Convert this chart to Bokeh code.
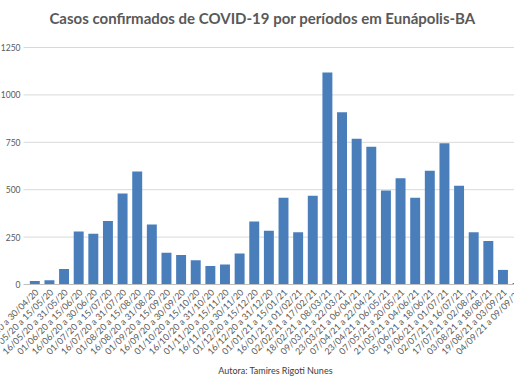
from math import pi
from bokeh.plotting import figure
from bokeh.models import Range1d
from bokeh.core.properties import value
from bokeh.embed import file_html
from bokeh.resources import INLINE

titulo = "Casos confirmados de COVID-19 por períodos em Eunápolis-BA"
autora = "Autora: Tamires Rigoti Nunes"
periodos = [
    "16/04/20 a 30/04/20", "01/05/20 a 15/05/20", "16/05/20 a 31/05/20",
    "01/06/20 a 15/06/20", "16/06/20 a 30/06/20", "01/07/20 a 15/07/20",
    "16/07/20 a 31/07/20", "01/08/20 a 15/08/20", "16/08/20 a 31/08/20",
    "01/09/20 a 15/09/20", "16/09/20 a 30/09/20", "01/10/20 a 15/10/20",
    "16/10/20 a 31/10/20", "01/11/20 a 15/11/20", "16/11/20 a 30/11/20",
    "01/12/20 a 15/12/20", "16/12/20 a 31/12/20", "01/01/21 a 15/01/21",
    "16/01/21 a 01/02/21", "02/02/21 a 17/02/21", "18/02/21 a 08/03/21",
    "09/03/21 a 22/03/21", "23/03/21 a 06/04/21", "07/04/21 a 22/04/21",
    "23/04/21 a 06/05/21", "07/05/21 a 20/05/21", "21/05/21 a 04/06/21",
    "05/06/21 a 18/06/21", "19/06/21 a 01/07/21", "02/07/21 a 16/07/21",
    "17/07/21 a 02/08/21", "03/08/21 a 18/08/21", "19/08/21 a 03/09/21",
    "04/09/21 a 09/09/21",
]
casos = [18, 23, 82, 280, 268, 335, 480, 596, 317, 168, 156, 128, 98, 106,
         163, 332, 284, 458, 275, 468, 1118, 908, 769, 727, 496, 560, 458,
         600, 745, 521, 275, 229, 77, 8]
y_ticks = [0, 250, 500, 750, 1000, 1250]
y_labels = [str(v) for v in y_ticks]

idx = list(range(len(periodos)))

# ---- layout, in pixels of the 514x386 canvas ----
W, H = 514, 386
px_per_cat = 14.63      # horizontal spacing of the bars
first_bar_px = 34.3     # centre of the first bar
plot_left_px = 23       # where the grid lines start
zero_px = 284           # y pixel of the value 0
top_px = 47             # y pixel of the value 1250
px_per_val = (zero_px - top_px) / y_ticks[-1]

x_start = -first_bar_px / px_per_cat
x_end = x_start + W / px_per_cat
y_top = zero_px / px_per_val
y_bottom = -(H - zero_px) / px_per_val


def X(px):
    return x_start + px / px_per_cat


def Y(py):
    return (zero_px - py) / px_per_val


p = figure(width=W, height=H, output_backend="svg", toolbar_location=None,
           x_range=Range1d(x_start, x_end), y_range=Range1d(y_bottom, y_top),
           x_axis_location=None, y_axis_location=None,
           min_border=0, min_border_left=0, min_border_right=0,
           min_border_top=0, min_border_bottom=0)
p.outline_line_color = None
p.xgrid.grid_line_color = None
p.ygrid.grid_line_color = None
p.background_fill_color = "white"

# grid lines
n = len(y_ticks)
p.segment(x0=[X(plot_left_px)] * (n - 1), x1=[x_end] * (n - 1),
          y0=y_ticks[1:], y1=y_ticks[1:], line_color="#d9d9d9", line_width=1)

# bars
p.vbar(x=idx, top=casos, width=0.68, bottom=0, fill_color="#4a7ebb",
       line_color=None)

# baseline
p.segment(x0=[X(plot_left_px)], x1=[x_end], y0=[0], y1=[0],
          line_color="#bfbfbf", line_width=1)

# y tick labels
p.text(x=[X(plot_left_px)] * n, y=y_ticks, text=y_labels, x_offset=-3,
       text_align="right", text_baseline="middle",
       text_font=value("Lato"), text_font_size=value("8.5px"),
       text_color="#595959")

# category labels
p.text(x=idx, y=[0] * len(idx), text=periodos, angle=pi / 4,
       x_offset=2, y_offset=6, text_align="right", text_baseline="middle",
       text_font=value("Lato"), text_font_size=value("9px"),
       text_color="#595959")

# title
p.text(x=[X(262)], y=[Y(17)], text=[titulo], text_align="center",
       text_baseline="middle", text_font=value("Lato"),
       text_font_size=value("15px"), text_font_style="bold",
       text_color="#595959")

# author
p.text(x=[X(275)], y=[Y(370)], text=[autora], text_align="center",
       text_baseline="middle", text_font=value("Lato"),
       text_font_size=value("9px"), text_color="#404040")

open("out.html", "w").write(file_html(p, INLINE))
